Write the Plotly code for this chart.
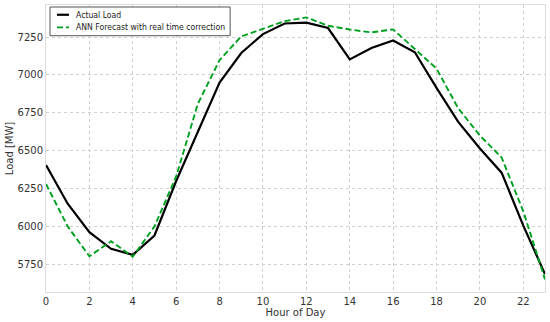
import plotly.graph_objects as go

hours = list(range(24))
actual_load = [6405, 6150, 5962, 5852, 5812, 5940, 6300, 6620, 6950, 7145, 7270, 7340,
               7345, 7310, 7103, 7178, 7228, 7150, 6915, 6690, 6515, 6355, 6005, 5685]
ann_forecast = [6280, 6000, 5803, 5902, 5800, 6000, 6330, 6810, 7098, 7255, 7305, 7355,
                7380, 7325, 7300, 7281, 7301, 7170, 7042, 6780, 6600, 6455, 6100, 5650]
series_names = ["Actual Load", "ANN Forecast with real time correction"]
x_ticks = list(range(0, 23, 2))
y_ticks = [5750, 6000, 6250, 6500, 6750, 7000, 7250]

black_line = dict(color="black", width=2.2)
green_line = dict(color="#00a020", width=1.9, dash="6px,3px")

fig = go.Figure()
fig.add_trace(go.Scatter(x=hours, y=actual_load, mode="lines", name=series_names[0],
                         line=black_line))
fig.add_trace(go.Scatter(x=hours, y=ann_forecast, mode="lines", name=series_names[1],
                         line=green_line))

# compact legend, matplotlib-style
fig.add_shape(type="rect", xref="paper", yref="paper", x0=0.008, x1=0.369, y0=0.893, y1=0.993,
              line=dict(color="#555555", width=1), fillcolor="white", layer="above")
for yy, ln, name in [(0.966, black_line, series_names[0]), (0.922, green_line, series_names[1])]:
    fig.add_shape(type="line", xref="paper", yref="paper", x0=0.022, x1=0.046, y0=yy, y1=yy,
                  line=ln, layer="above")
    fig.add_annotation(xref="paper", yref="paper", x=0.057, y=yy, text=name, showarrow=False,
                       xanchor="left", yanchor="middle",
                       font=dict(family="DejaVu Sans Condensed, DejaVu Sans", size=8.6, color="#222222"))

font = "DejaVu Sans"
fig.update_layout(
    width=550, height=322,
    margin=dict(l=46, r=5, t=5, b=30),
    paper_bgcolor="white", plot_bgcolor="white",
    font=dict(family=font, size=10, color="#333333"),
    showlegend=False,
)
fig.update_xaxes(range=[0, 23], tickvals=x_ticks, showgrid=True, automargin=False,
                 gridcolor="#d0d0d0", griddash="dot", gridwidth=1,
                 zeroline=False, showline=True, mirror=True, linecolor="#dddddd",
                 ticks="",
                 title=dict(text="Hour of Day", font=dict(size=10), standoff=2),
                 tickfont=dict(size=10))
fig.update_yaxes(range=[5567, 7462], tickvals=y_ticks, showgrid=True, automargin=False,
                 gridcolor="#d0d0d0", griddash="dot", gridwidth=1,
                 zeroline=False, showline=True, mirror=True, linecolor="#dddddd",
                 ticks="",
                 title=dict(text="Load [MW]", font=dict(size=10), standoff=2),
                 tickfont=dict(size=10))

fig.write_html("out.html", config={"displayModeBar": False},
               post_script="document.body.style.margin='0';document.body.style.overflow='hidden';")
